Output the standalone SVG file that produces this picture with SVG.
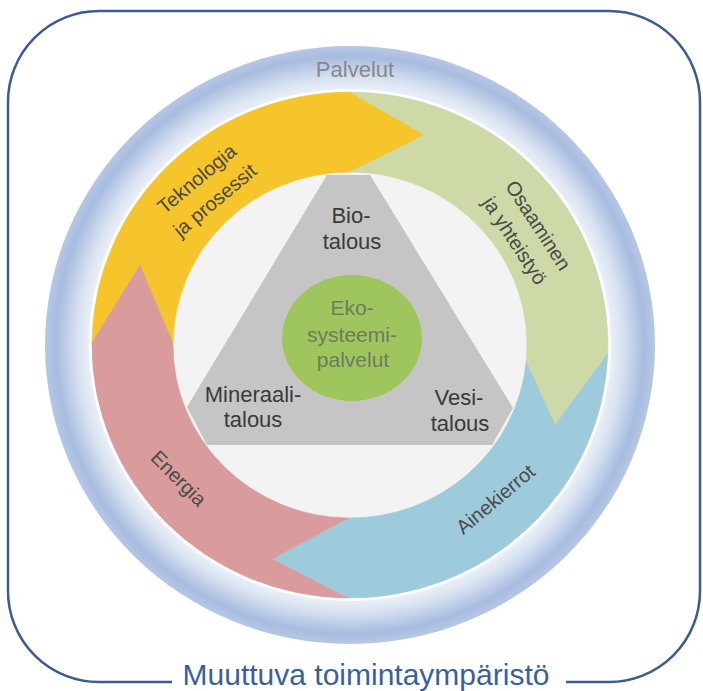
<svg xmlns="http://www.w3.org/2000/svg" width="703" height="691" viewBox="0 0 703 691">
<defs>
<radialGradient id="blueRing" cx="50%" cy="50%" r="50%">
<stop offset="0.84" stop-color="#f0f4fa"/>
<stop offset="0.89" stop-color="#dbe4f2"/>
<stop offset="0.965" stop-color="#a8bce0"/>
<stop offset="1" stop-color="#b6c7e5"/>
</radialGradient>
<style>
.lbl{font-family:"Liberation Sans",Arial,sans-serif;text-anchor:middle}
.ring{font-size:20px;fill:#4a4a4a}
.tri{font-size:22px;fill:#3a3a3a}
.eko{font-size:21px;fill:#6e7b5c}
.seg{stroke-width:0.6;stroke-linejoin:round}
</style>
</defs>
<rect width="703" height="691" fill="#ffffff"/>
<g id="frame">
<path d="M172,682 L99,682 A91,91 0 0 1 8,591 L8,102 A91,91 0 0 1 99,11 L609,11 A91,91 0 0 1 700,102 L700,591 A91,91 0 0 1 609,682 L566,682" fill="none" stroke="#3a5c92" stroke-width="2.5"/>
<text class="lbl" x="366" y="685" font-size="30" fill="#3c5f98">Muuttuva toimintaympäristö</text>
</g>
<g id="palvelut">
<ellipse cx="350" cy="345" rx="305" ry="299" fill="url(#blueRing)"/>
<ellipse cx="350" cy="345" rx="261" ry="256" fill="#ffffff"/>
<text class="lbl" x="355" y="77" font-size="22" fill="#888888">Palvelut</text>
</g>
<ellipse id="inner-bg" cx="350" cy="345" rx="178" ry="174" fill="#f3f3f3"/>
<g id="teknologia">
<path class="seg" d="M92,342.8 A258,253 0 0 1 350,92 L425,135 L350,172 A177,173 0 0 0 173,343.5 L140,265 Z" fill="#f6c42b" stroke="#f6c42b"/>
<text class="lbl ring" transform="translate(207,191) rotate(-40)"><tspan x="0" y="-9">Teknologia</tspan><tspan x="0" y="19">ja prosessit</tspan></text>
</g>
<g id="osaaminen">
<path class="seg" d="M350,92 A258,253 0 0 1 607.8,353.8 L555,425 L526.2,361.6 A177,173 0 0 0 350,172 L425,135 Z" fill="#cdd9a6" stroke="#cdd9a6"/>
<text class="lbl ring" transform="translate(525,234) rotate(57)"><tspan x="0" y="-9">Osaaminen</tspan><tspan x="0" y="19">ja yhteistyö</tspan></text>
</g>
<g id="ainekierrot">
<path class="seg" d="M607.8,353.8 A258,253 0 0 1 347.7,598 L272,559 L348.5,518 A177,173 0 0 0 526.2,361.6 L555,425 Z" fill="#9ecbdb" stroke="#9ecbdb"/>
<text class="lbl ring" transform="translate(496,500) rotate(-40)" x="0" y="6">Ainekierrot</text>
</g>
<g id="energia">
<path class="seg" d="M347.7,598 A258,253 0 0 1 92,342.8 L140,265 L173,343.5 A177,173 0 0 0 348.5,518 L272,559 Z" fill="#d99b9b" stroke="#d99b9b"/>
<text class="lbl ring" transform="translate(178,479) rotate(45)" x="0" y="6">Energia</text>
</g>
<g id="talous">
<polygon points="327,175 370,175 513,408 492,445 207,445 187,407" fill="#c5c5c5"/>
<text class="lbl tri"><tspan x="351" y="223">Bio-</tspan><tspan x="352" y="249">talous</tspan></text>
<text class="lbl tri"><tspan x="253" y="402">Mineraali-</tspan><tspan x="253" y="427">talous</tspan></text>
<text class="lbl tri"><tspan x="459" y="405">Vesi-</tspan><tspan x="460" y="431">talous</tspan></text>
</g>
<g id="ekosysteemipalvelut">
<ellipse cx="352" cy="338" rx="70" ry="63" fill="#9fc65c"/>
<text class="lbl eko"><tspan x="352" y="315">Eko-</tspan><tspan x="352" y="342">systeemi-</tspan><tspan x="353" y="367">palvelut</tspan></text>
</g>
</svg>
